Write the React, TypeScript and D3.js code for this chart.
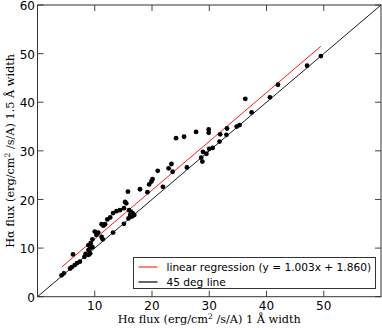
import React, { useEffect } from 'react';
import * as d3 from 'd3';

// flux measured with 1 Å and 1.5 Å windows (erg/cm^2/s/A)
const flux1 = [
  4.2, 4.6, 5.7, 6.0, 6.5, 6.9, 7.4, 6.2, 8.2, 8.4, 8.9, 9.2, 8.9, 9.2, 9.6, 8.9, 9.3, 9.6,
  10.0, 10.6, 10.3, 11.2, 11.4, 11.5, 11.8, 11.2, 12.2, 12.7, 13.2, 13.8, 14.4, 15.1, 15.3, 15.5,
  15.8, 13.2, 15.1, 15.9, 16.2, 16.5, 16.0, 16.3, 16.6, 16.9, 17.9, 19.2, 19.5, 19.9, 20.1, 21.9,
  21.0, 22.9, 23.4, 23.6, 26.1, 24.2, 25.6, 27.7, 29.9, 29.9, 28.9, 29.5, 28.6, 28.8, 30.0, 30.6,
  31.8, 31.9, 33.0, 33.1, 34.8, 35.3, 36.3, 37.4, 40.6, 42.0, 47.1, 49.5,
];
const flux15 = [
  4.4, 4.8, 5.8, 6.1, 6.5, 6.9, 7.2, 8.7, 8.2, 8.8, 8.6, 8.9, 9.6, 10.0, 10.2, 10.6, 11.0, 11.8,
  13.4, 13.2, 12.7, 12.3, 11.8, 14.6, 14.9, 14.9, 15.9, 16.3, 17.2, 17.6, 17.8, 18.2, 19.5, 19.2,
  21.6, 13.2, 15.0, 16.1, 16.8, 16.5, 17.8, 17.5, 17.2, 16.8, 22.1, 21.5, 23.1, 23.7, 24.2, 22.6,
  25.9, 26.4, 27.3, 25.7, 26.6, 32.6, 32.9, 33.9, 34.4, 33.7, 29.8, 29.4, 28.6, 27.8, 30.4, 30.6,
  31.9, 33.4, 33.3, 34.6, 35.0, 35.3, 40.7, 37.9, 41.0, 43.6, 47.5, 49.5,
];
const slope = 1.003;
const intercept = 1.86;
const xTicks = [10, 20, 30, 40, 50];
const yTicks = [0, 10, 20, 30, 40, 50, 60];
const legendLabels = ['linear regression (y = 1.003x + 1.860)', '45 deg line'];

const W = 382;
const H = 329;
const left = 37.5;
const right = 381;
const top = 5;
const bottom = 296.7;

export default function App() {
  useEffect(() => {
    document.body.style.margin = '0';
  }, []);

  const x = d3.scaleLinear().domain([0, 60]).range([left, right]);
  const y = d3.scaleLinear().domain([0, 60]).range([bottom, top]);
  const line = d3.line<[number, number]>().x(d => x(d[0])).y(d => y(d[1]));

  const xmin = d3.min(flux1)!;
  const xmax = d3.max(flux1)!;
  const fit: [number, number][] = [[xmin, slope * xmin + intercept], [xmax, slope * xmax + intercept]];
  const diag: [number, number][] = [[0, 0], [60, 60]];

  const tickLen = 6;
  const serif = '"DejaVu Serif", serif';
  const sans = '"DejaVu Sans", sans-serif';

  const lgX = 133.5, lgY = 257.5, lgW = 242, lgH = 31;

  return (
    <svg width={W} height={H} style={{ position: 'absolute', left: 0, top: 0, background: '#fff' }}>
      <defs>
        <clipPath id="plot">
          <rect x={left} y={top} width={right - left} height={bottom - top} />
        </clipPath>
      </defs>
      <g clipPath="url(#plot)">
        <path d={line(diag)!} stroke="#000" strokeWidth={0.9} fill="none" />
        <path d={line(fit)!} stroke="#ff0000" strokeWidth={0.9} fill="none" />
        {flux1.map((v, i) => (
          <circle key={i} cx={x(v)} cy={y(flux15[i])} r={2.4} fill="#000" />
        ))}
      </g>
      {/* ticks, inward on all four sides */}
      <g stroke="#444" strokeWidth={1}>
        {xTicks.map(t => (
          <g key={'x' + t}>
            <line x1={x(t)} x2={x(t)} y1={bottom} y2={bottom - tickLen} />
            <line x1={x(t)} x2={x(t)} y1={top} y2={top + tickLen} />
          </g>
        ))}
        {yTicks.map(t => (
          <g key={'y' + t}>
            <line x1={left} x2={left + tickLen} y1={y(t)} y2={y(t)} />
            <line x1={right} x2={right - tickLen} y1={y(t)} y2={y(t)} />
          </g>
        ))}
      </g>
      <rect x={left} y={top} width={right - left} height={bottom - top} fill="none" stroke="#333" strokeWidth={1} />
      <g fontFamily={sans} fontSize={12} fill="#000">
        {xTicks.map(t => (
          <text key={'xl' + t} x={x(t)} y={310} textAnchor="middle">{t}</text>
        ))}
        {yTicks.map(t => (
          <text key={'yl' + t} x={35} y={y(t)} dy="0.42em" textAnchor="end">{t}</text>
        ))}
      </g>
      <text x={(left + right) / 2} y={323} textAnchor="middle" fontFamily={serif} fontSize={11.3}>
        Hα flux (erg/cm<tspan dy={-4} fontSize={7.5}>2</tspan><tspan dy={4}> /s/A) 1 Å width</tspan>
      </text>
      <text
        transform={`translate(14,${(top + bottom) / 2}) rotate(-90)`}
        textAnchor="middle"
        fontFamily={serif}
        fontSize={11.3}
      >
        Hα flux (erg/cm<tspan dy={-4} fontSize={7.5}>2</tspan><tspan dy={4}> /s/A) 1.5 Å width</tspan>
      </text>
      {/* legend */}
      <rect x={lgX} y={lgY} width={lgW} height={lgH} fill="#fff" stroke="#333" strokeWidth={1} />
      {legendLabels.map((lab, i) => {
        const cy = lgY + 9.5 + i * 15;
        return (
          <g key={lab}>
            <line x1={lgX + 5} x2={lgX + 24} y1={cy} y2={cy} stroke={i === 0 ? '#ff0000' : '#000'} strokeWidth={i === 0 ? 1 : 1.2} />
            <text x={lgX + 33} y={cy} dy="0.36em" fontFamily={sans} fontSize={10.6}>{lab}</text>
          </g>
        );
      })}
    </svg>
  );
}
